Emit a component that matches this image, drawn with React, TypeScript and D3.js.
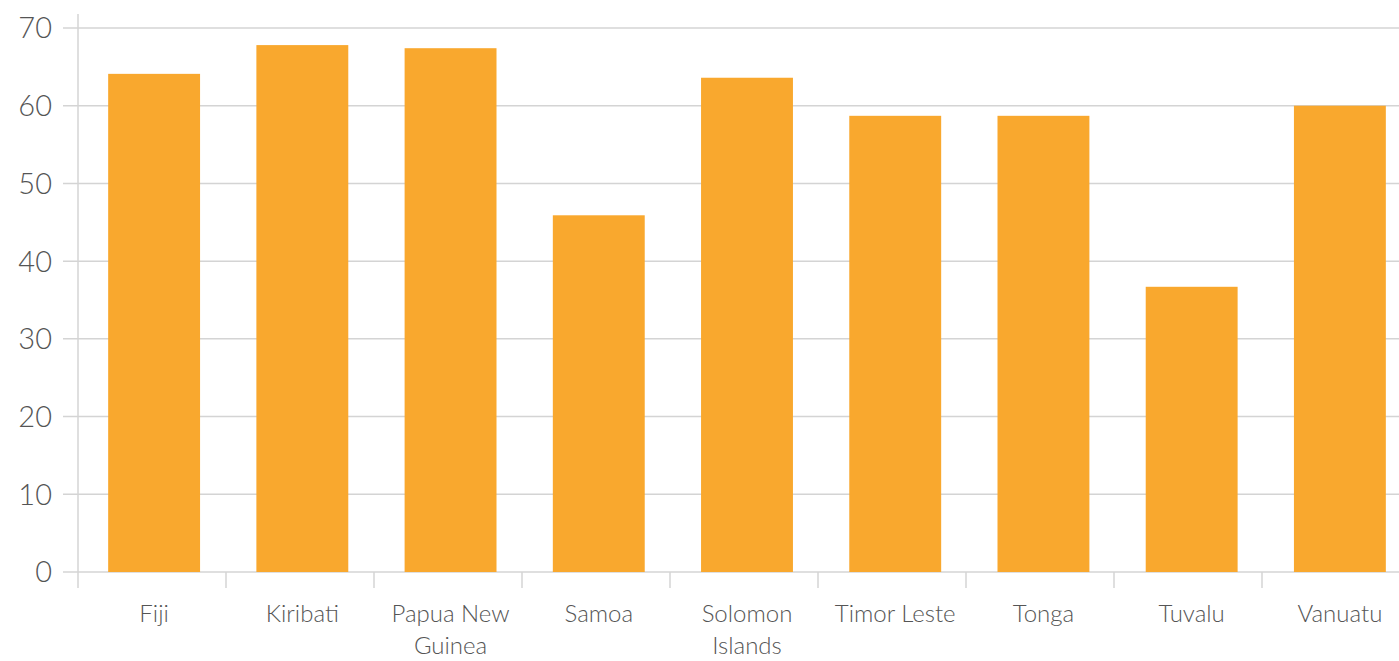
import React from "react";
import * as d3 from "d3";

const categories = ["Fiji", "Kiribati", "Papua New Guinea", "Samoa", "Solomon Islands", "Timor Leste", "Tonga", "Tuvalu", "Vanuatu"];
const labelLines = [["Fiji"], ["Kiribati"], ["Papua New", "Guinea"], ["Samoa"], ["Solomon", "Islands"], ["Timor Leste"], ["Tonga"], ["Tuvalu"], ["Vanuatu"]];
const values = [64.1, 67.8, 67.4, 45.9, 63.6, 58.7, 58.7, 36.7, 60.0];
const yTicks = [0, 10, 20, 30, 40, 50, 60, 70];

export default function App() {
  const W = 1399, H = 661;
  const x0 = 78, x1 = 1412, yTop = 28, yBot = 572;
  const x = d3.scaleBand<string>().domain(categories).range([x0 + 2, x1 + 2]).paddingInner(0.38).paddingOuter(0.19);
  const step = 148;
  const y = d3.scaleLinear().domain([0, 70]).range([yBot, yTop]);
  const font = "Lato, 'Open Sans', sans-serif";
  return (
    <svg width={W} height={H} style={{ position: "absolute", left: 0, top: 0 }}>
      {yTicks.map((t) => (
        <g key={t}>
          <line x1={63} x2={W} y1={y(t)} y2={y(t)} stroke="#d4d4d4" strokeWidth={1.5} />
          <text x={52} y={y(t)} dy="0.36em" textAnchor="end" fontFamily={font} fontWeight={300} fontSize={29} fill="#555">{t}</text>
        </g>
      ))}
      <line x1={x0} x2={x0} y1={14} y2={588} stroke="#d4d4d4" strokeWidth={1.5} />
      {categories.map((c, i) => (
        <line key={"t" + c} x1={x0 + step * (i + 1)} x2={x0 + step * (i + 1)} y1={yBot} y2={588} stroke="#d4d4d4" strokeWidth={1.5} />
      ))}
      {categories.map((c, i) => (
        <rect key={c} x={x(c)!} width={x.bandwidth()} y={y(values[i])} height={yBot - y(values[i])} fill="#F9A82E" />
      ))}
      {categories.map((c, i) => (
        <text key={"l" + c} x={x(c)! + x.bandwidth() / 2} y={622} textAnchor="middle" fontFamily={font} fontWeight={300} fontSize={24} fill="#555">
          {labelLines[i].map((ln, j) => (
            <tspan key={j} x={x(c)! + x.bandwidth() / 2} dy={j === 0 ? 0 : 32}>{ln}</tspan>
          ))}
        </text>
      ))}
    </svg>
  );
}
